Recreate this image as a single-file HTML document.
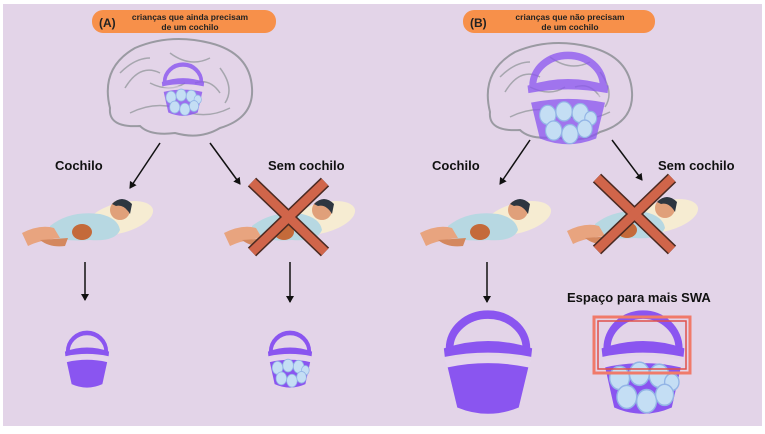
<!DOCTYPE html>
<html><head><meta charset="utf-8"><style>
html,body{margin:0;padding:0;background:#fff}
svg{display:block}
text{font-family:"Liberation Sans",sans-serif;font-weight:bold}
</style></head><body>
<svg width="765" height="434" viewBox="0 0 765 434" xmlns="http://www.w3.org/2000/svg">
<defs>
<marker id="ar" markerWidth="8" markerHeight="8" refX="6" refY="4" orient="auto" markerUnits="userSpaceOnUse"><path d="M0,0 L7,4 L0,8 Z" fill="#111"/></marker>
<symbol id="sleeper" viewBox="0 0 135 65">
<ellipse cx="100" cy="30" rx="34" ry="15" fill="#f6ecd2" transform="rotate(-15 100 30)"/>
<path d="M30,38 Q50,22 80,26 Q98,30 100,42 Q95,54 70,52 Q45,54 30,48 Z" fill="#b7d8e2"/>
<path d="M2,45 Q20,36 34,40 L40,50 Q20,52 8,58 Z" fill="#e8a47f"/>
<path d="M20,52 Q30,60 45,58 L48,50 Z" fill="#d4885f"/>
<ellipse cx="62" cy="44" rx="10" ry="8" fill="#c46a3a"/>
<circle cx="100" cy="22" r="10" fill="#e0a07a"/>
<path d="M92,16 Q102,6 112,16 L110,26 Q104,16 96,18 Z" fill="#2d3640"/>
</symbol>
<symbol id="bucket" viewBox="0 0 100 110" preserveAspectRatio="none">
<path d="M10,44 A40,32 0 0 1 90,44" fill="none" stroke="#8a55f0" stroke-width="8"/>
<path d="M4,44 Q50,30 96,44 L95,52 Q50,44 5,52 Z" fill="#8a55f0"/>
<path d="M5,55 Q50,47 95,55 L92,62 Q50,54 8,62 Z" fill="#e6d6ee" opacity="0.6"/>
<path d="M8,62 Q50,54 92,62 L82,100 Q50,112 18,100 Z" fill="#8a55f0"/>
</symbol>
<symbol id="balls" viewBox="0 0 100 110" preserveAspectRatio="none">
<g fill="#c4def4" stroke="#93b5e6" stroke-width="1.5">
<circle cx="24" cy="72" r="11"/><circle cx="46" cy="68" r="11"/><circle cx="68" cy="70" r="11"/><circle cx="82" cy="76" r="8"/>
<circle cx="32" cy="90" r="11"/><circle cx="54" cy="94" r="11"/><circle cx="74" cy="88" r="10"/>
</g>
</symbol>
<g id="brain">
<path d="M-70,20 Q-80,-20 -45,-40 Q-10,-55 30,-45 Q70,-35 72,0 Q74,30 40,40 Q20,52 -5,45 Q-30,48 -40,38 Q-72,40 -70,20 Z" fill="none" stroke="#9a9aa2" stroke-width="2"/>
<path d="M-55,0 Q-40,-25 -20,-15 M-10,-35 Q10,-20 30,-30 M40,-20 Q55,0 45,15 M-50,25 Q-20,10 10,25 Q30,30 50,20 M-30,-5 Q-10,5 5,-5 M-60,-15 Q-45,-30 -30,-30 M15,-5 Q30,-10 40,5" fill="none" stroke="#a6a6ae" stroke-width="1.5"/>
</g>
</defs>
<rect x="0" y="0" width="765" height="434" fill="#fff"/>
<rect x="3" y="4" width="759" height="422" fill="#e3d4e8"/>

<rect x="92" y="10" width="184" height="23" rx="11" fill="#f7904a"/>
<text x="99" y="27" font-size="12" fill="#222">(A)</text>
<text x="190" y="20" font-size="8.5" fill="#222" text-anchor="middle">crianças que ainda precisam</text>
<text x="190" y="30" font-size="8.5" fill="#222" text-anchor="middle">de um cochilo</text>
<rect x="463" y="10" width="192" height="23" rx="11" fill="#f7904a"/>
<text x="470" y="27" font-size="12" fill="#222">(B)</text>
<text x="570" y="20" font-size="8.5" fill="#222" text-anchor="middle">crianças que não precisam</text>
<text x="570" y="30" font-size="8.5" fill="#222" text-anchor="middle">de um cochilo</text>

<use href="#brain" transform="translate(180,88)"/>
<use href="#bucket" x="160" y="58" width="46" height="60" opacity="0.8"/>
<use href="#balls" x="160" y="58" width="46" height="60"/>
<use href="#brain" transform="translate(560,92)"/>
<use href="#bucket" x="524" y="44" width="88" height="104" opacity="0.75"/>
<use href="#balls" x="530" y="52" width="74" height="96"/>

<g stroke="#111" stroke-width="1.5" marker-end="url(#ar)">
<line x1="160" y1="143" x2="130" y2="188"/>
<line x1="210" y1="143" x2="240" y2="184"/>
<line x1="530" y1="140" x2="500" y2="184"/>
<line x1="612" y1="140" x2="642" y2="180"/>
<line x1="85" y1="262" x2="85" y2="300"/>
<line x1="290" y1="262" x2="290" y2="302"/>
<line x1="487" y1="262" x2="487" y2="302"/>
</g>

<text x="55" y="170" font-size="13" fill="#111">Cochilo</text>
<text x="268" y="170" font-size="13" fill="#111">Sem cochilo</text>
<text x="432" y="170" font-size="13" fill="#111">Cochilo</text>
<text x="658" y="170" font-size="13" fill="#111">Sem cochilo</text>

<use href="#sleeper" x="20" y="188" width="135" height="65"/>
<use href="#sleeper" x="222" y="188" width="135" height="65"/>
<use href="#sleeper" x="418" y="188" width="135" height="65"/>
<use href="#sleeper" x="565" y="186" width="135" height="65"/>

<g stroke="#4a2a22" stroke-width="12"><line x1="252" y1="182" x2="325" y2="252"/><line x1="325" y1="182" x2="252" y2="252"/>
<line x1="597" y1="178" x2="672" y2="250"/><line x1="672" y1="178" x2="597" y2="250"/></g>
<g stroke="#d0654a" stroke-width="9"><line x1="252" y1="182" x2="325" y2="252"/><line x1="325" y1="182" x2="252" y2="252"/>
<line x1="597" y1="178" x2="672" y2="250"/><line x1="672" y1="178" x2="597" y2="250"/></g>

<use href="#bucket" x="63" y="326" width="48" height="64"/>
<use href="#bucket" x="266" y="326" width="48" height="64"/>
<use href="#balls" x="266" y="326" width="48" height="64"/>
<use href="#bucket" x="440" y="302" width="96" height="116"/>
<text x="567" y="302" font-size="13" fill="#111">Espaço para mais SWA</text>
<use href="#bucket" x="598" y="302" width="90" height="116"/>
<use href="#balls" x="598" y="302" width="90" height="116"/>
<rect x="594" y="317" width="96" height="56" fill="none" stroke="#f07a6a" stroke-width="3"/>
<rect x="598" y="321" width="88" height="48" fill="none" stroke="#e0504a" stroke-width="1.5"/>
</svg>
</body></html>
